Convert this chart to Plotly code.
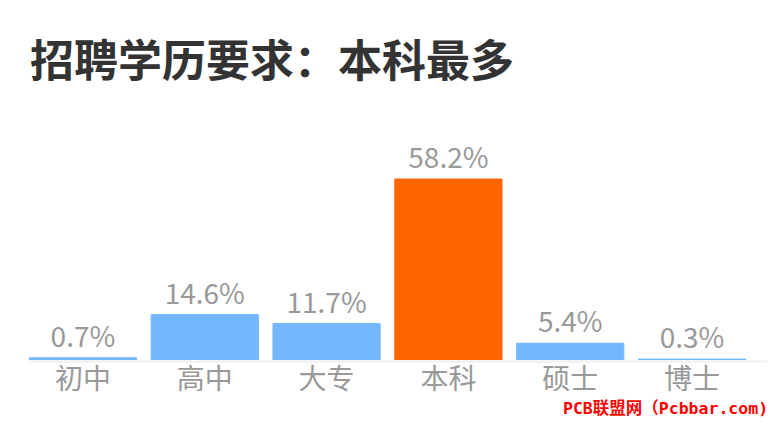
import plotly.graph_objects as go

categories = ["初中", "高中", "大专", "本科", "硕士", "博士"]
values = [0.7, 14.6, 11.7, 58.2, 5.4, 0.3]
labels = ["0.7%", "14.6%", "11.7%", "58.2%", "5.4%", "0.3%"]
colors = ["#75b7fe", "#75b7fe", "#75b7fe", "#ff6600", "#75b7fe", "#75b7fe"]

# page body has an 8px default margin; work in figure coordinates (ref - 8)
OFF = 8
W, H = 775 - OFF, 426 - OFF
ml = 22 - OFF
mr = W - (753 - OFF)
mb = H - (360 - OFF)
mt = 92
pw = W - ml - mr
ph = H - mt - mb

fig = go.Figure(go.Bar(
    x=categories, y=values, text=labels, textposition="outside",
    marker=dict(color=colors, line=dict(width=1, color=colors)),
    textfont=dict(size=28, color="#999999", family="Noto Sans CJK SC"),
    cliponaxis=False, hoverinfo="skip",
))

fig.update_layout(
    width=W, height=H,
    margin=dict(l=ml, r=mr, t=mt, b=mb),
    paper_bgcolor="white", plot_bgcolor="white",
    bargap=0.12,
    showlegend=False,
    font=dict(family="Noto Sans CJK SC"),
    title=dict(text="<b>招聘学历要求：本科最多</b>", x=(30 - OFF) / W, xanchor="left",
               y=1 - (62 - OFF) / H, yanchor="middle",
               font=dict(size=44, color="#333333", family="Noto Sans CJK SC")),
    xaxis=dict(showline=False, showgrid=False, zeroline=False, ticks="",
               tickfont=dict(size=28, color="#999999", family="Noto Sans CJK SC")),
    yaxis=dict(visible=False, range=[0, ph / 3.11]),
    shapes=[dict(type="line", xref="paper", yref="paper", layer="below",
                 x0=(29 - 22) / pw, x1=(775 - 22) / pw, y0=-1.5 / ph, y1=-1.5 / ph,
                 line=dict(color="#eeeeee", width=2))],
    annotations=[dict(text="<b>PCB联盟网（Pcbbar.com)</b>", xref="paper", yref="paper",
                      x=(770 - 22) / pw, xanchor="right",
                      y=-(408 - 360) / ph, yanchor="middle",
                      showarrow=False,
                      font=dict(size=16.5, color="#ff0000", family="DejaVu Sans Mono, Noto Sans CJK SC"))],
)

fig.write_html("out.html")
